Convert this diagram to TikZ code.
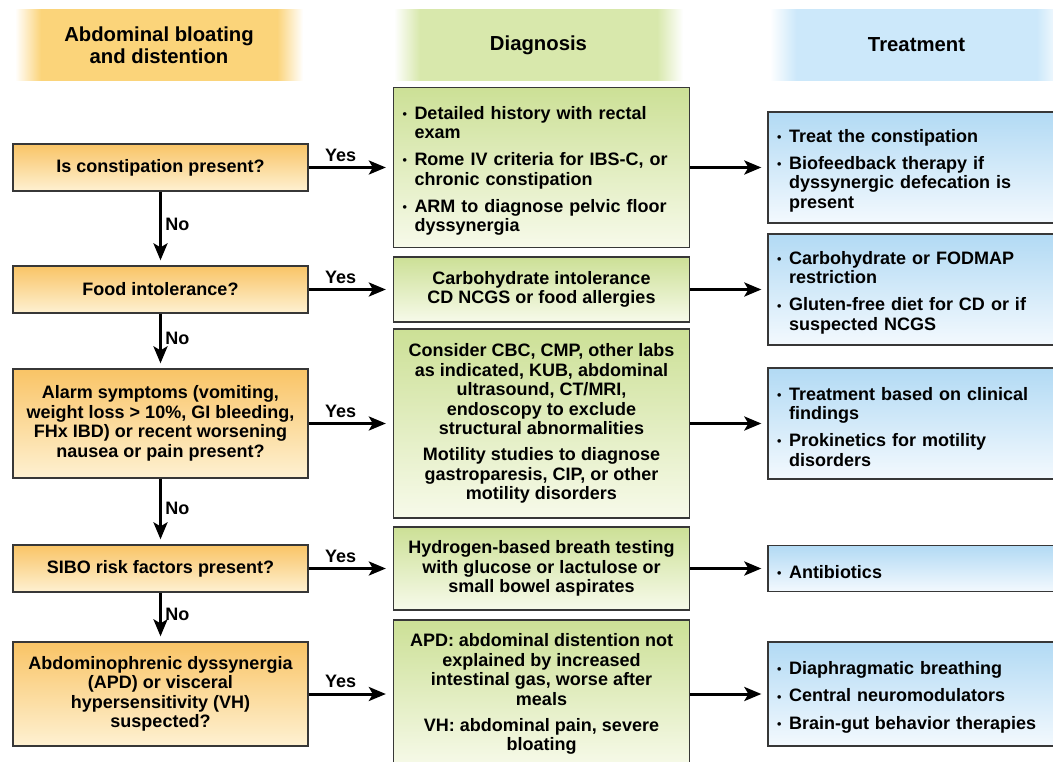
\documentclass[tikz,border=0pt]{standalone}
\usepackage{fontspec}
\setmainfont{Liberation Sans}
\usetikzlibrary{arrows.meta}
\definecolor{hO}{RGB}{251,212,122}
\definecolor{hG}{RGB}{216,232,172}
\definecolor{hB}{RGB}{204,232,250}
\definecolor{oTop}{RGB}{249,196,102}
\definecolor{oBot}{RGB}{254,241,210}
\definecolor{gTop}{RGB}{204,224,150}
\definecolor{gBot}{RGB}{247,250,234}
\definecolor{bTop}{RGB}{178,218,244}
\definecolor{bBot}{RGB}{243,249,254}
\definecolor{edge}{RGB}{55,55,55}
\pgfdeclarehorizontalshading{hdrO}{100bp}{color(0bp)=(white); color(25bp)=(white); color(29.5bp)=(hO); color(70.5bp)=(hO); color(75bp)=(white); color(100bp)=(white)}
\pgfdeclarehorizontalshading{hdrG}{100bp}{color(0bp)=(white); color(25bp)=(white); color(29.5bp)=(hG); color(70.5bp)=(hG); color(75bp)=(white); color(100bp)=(white)}
\pgfdeclarehorizontalshading{hdrB}{100bp}{color(0bp)=(white); color(25bp)=(white); color(29.5bp)=(hB); color(70.5bp)=(hB); color(75bp)=(white); color(100bp)=(white)}
\newcommand\bdot{\makebox[13pt][l]{\hspace{1pt}\raisebox{0.8pt}{\fontsize{12.5}{12}\selectfont •}}}
\newcommand\bitem[1]{\par\noindent\hangindent=13pt\hangafter=1\bdot#1\par}
\newcommand\igap{\vspace{7.5pt}}
\tikzset{
  base/.style={font=\fontsize{18}{19.5}\selectfont\bfseries, text=black},
  qbox/.style={base, draw=edge, line width=1.3pt, top color=oTop, bottom color=oBot, minimum width=295pt, align=center, inner sep=0pt},
  dbox/.style={base, draw=edge, line width=1.3pt, top color=gTop, bottom color=gBot, minimum width=296pt, align=center, inner sep=0pt},
  dlist/.style={base, draw=edge, line width=1.3pt, top color=gTop, bottom color=gBot, text width=280pt, inner xsep=8pt, inner ysep=0pt, align=left},
  tbox/.style={base, draw=edge, line width=1.3pt, top color=bTop, bottom color=bBot, text width=274pt, inner xsep=8pt, inner ysep=0pt, align=left},
  hdr/.style={font=\fontsize{20.3}{22}\selectfont\bfseries, align=center, minimum height=71pt, inner sep=0pt},
  arr/.style={line width=3pt, -{Stealth[length=17pt,width=14pt,inset=4pt]}},
  yeslbl/.style={font=\fontsize{18}{19}\selectfont\bfseries, above, pos=0.38, yshift=1pt},
  nolbl/.style={font=\fontsize{18}{19}\selectfont\bfseries, right, pos=0.45}
}
\begin{document}
\begin{tikzpicture}[x=1pt,y=-1pt]
\useasboundingbox (0,0) rectangle (1053,762);
% headers
\node[hdr, shading=hdrO, minimum width=288pt] (h1) at (159,45) {Abdominal bloating\\and distention};
\node[hdr, shading=hdrG, minimum width=289pt] (h2) at (538.5,45) {Diagnosis};
\node[hdr, shading=hdrB, minimum width=293pt] (h3) at (916.5,45) {Treatment};
% question boxes
\node[qbox, minimum height=47pt] (q1) at (160.5,167.5) {Is constipation present?};
\node[qbox, minimum height=47pt] (q2) at (160.5,289.5) {Food intolerance?};
\node[qbox, minimum height=109pt] (q3) at (160.5,423.5) {Alarm symptoms (vomiting,\\weight loss > 10\%, GI bleeding,\\FHx IBD) or recent worsening\\nausea or pain present?};
\node[qbox, minimum height=47pt] (q4) at (160.5,568.5) {SIBO risk factors present?};
\node[qbox, minimum height=104pt] (q5) at (160.5,694) {Abdominophrenic dyssynergia\\(APD) or visceral\\hypersensitivity (VH)\\suspected?};
% diagnosis boxes
\node[dlist, minimum height=160pt] (d1) at (541.5,167.5) {\bitem{Detailed history with rectal\newline exam}\igap\bitem{Rome IV criteria for IBS-C, or\newline chronic constipation}\igap\bitem{ARM to diagnose pelvic floor\newline dyssynergia}};
\node[dbox, minimum height=65pt] (d2) at (541.5,289.5) {Carbohydrate intolerance\\CD NCGS or food allergies};
\node[dbox, minimum height=189pt] (d3) at (541.5,423.5) {Consider CBC, CMP, other labs\\as indicated, KUB, abdominal\\ultrasound, CT/MRI,\\endoscopy to exclude\\structural abnormalities\\[6.5pt]Motility studies to diagnose\\gastroparesis, CIP, or other\\motility disorders};
\node[dbox, minimum height=83pt] (d4) at (541.5,568.5) {Hydrogen-based breath testing\\with glucose or lactulose or\\small bowel aspirates};
\node[dbox, minimum height=148pt] (d5) at (541.5,694) {APD: abdominal distention not\\explained by increased\\intestinal gas, worse after\\meals\\[6.5pt]VH: abdominal pain, severe\\bloating};
% treatment boxes
\node[tbox, minimum height=111pt] (t1) at (913,167.5) {\bitem{Treat the constipation}\igap\bitem{Biofeedback therapy if\newline dyssynergic defecation is\newline present}};
\node[tbox, minimum height=111pt] (t2) at (913,289.5) {\bitem{Carbohydrate or FODMAP\newline restriction}\igap\bitem{Gluten-free diet for CD or if\newline suspected NCGS}};
\node[tbox, minimum height=111pt] (t3) at (913,423.5) {\bitem{Treatment based on clinical\newline findings}\igap\bitem{Prokinetics for motility\newline disorders}};
\node[tbox, minimum height=46pt] (t4) at (913,568.5) {\bitem{Antibiotics}};
\node[tbox, minimum height=104pt] (t5) at (913,694) {\bitem{Diaphragmatic breathing}\vspace{8pt}\bitem{Central neuromodulators}\vspace{8pt}\bitem{Brain-gut behavior therapies}};
% yes arrows
\foreach \i in {1,...,5}{
  \draw[arr, shorten >=7pt] (q\i.east) -- (d\i.west) node[yeslbl] {Yes};
  \draw[arr, shorten >=6pt] (d\i.east) -- (t\i.west);
}
% no arrows
\draw[arr, shorten >=5pt] (q1.south) -- (q2.north) node[nolbl] {No};
\draw[arr, shorten >=5pt] (q2.south) -- (q3.north) node[nolbl] {No};
\draw[arr, shorten >=5pt] (q3.south) -- (q4.north) node[nolbl] {No};
\draw[arr, shorten >=5pt] (q4.south) -- (q5.north) node[nolbl] {No};
\end{tikzpicture}
\end{document}
